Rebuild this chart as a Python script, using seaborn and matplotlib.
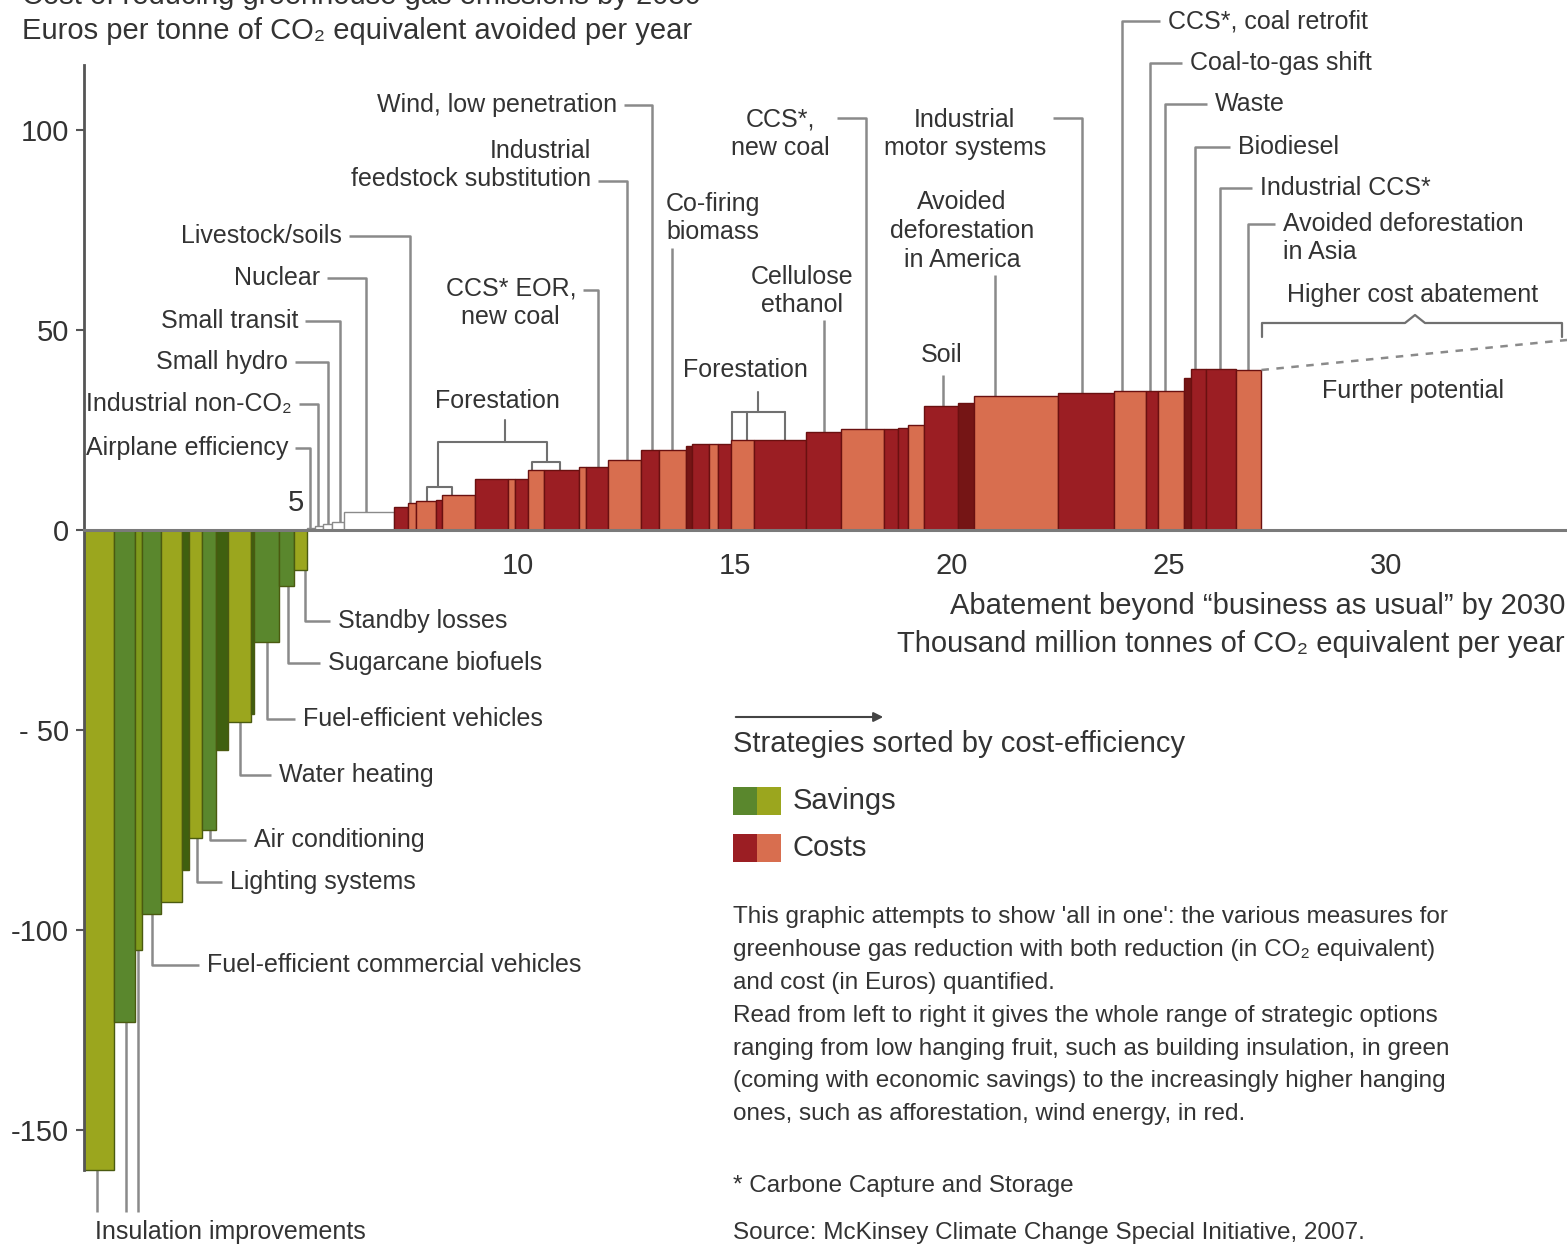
import numpy as np
import matplotlib.pyplot as plt
import seaborn as sns
from matplotlib.patches import Rectangle

sns.set_theme(style="white")
plt.rcParams["font.family"] = ["Liberation Sans", "DejaVu Sans"]

# --- data: abatement (thousand Mt CO2e / yr) and cost (EUR / t) per strategy ---
saving_widths = [0.69, 0.48, 0.16, 0.44, 0.48, 0.16, 0.32, 0.30, 0.28, 0.53, 0.07, 0.58, 0.35, 0.30]
saving_costs = [-160, -123, -105, -96, -93, -85, -77, -75, -55, -48, -46, -28, -14, -10]
saving_shades = ["y", "g", "o", "g", "y", "d", "y", "g", "d", "y", "d", "g", "g", "y"]

small_widths = [0.18, 0.18, 0.21, 0.28, 1.15]
small_costs = [0.5, 1.0, 1.5, 2.0, 4.5]

cost_widths = [0.32, 0.18, 0.46, 0.16, 0.76, 0.74, 0.18, 0.30, 0.35, 0.81,
               0.16, 0.51, 0.76, 0.41, 0.62, 0.16, 0.37, 0.21, 0.30, 0.53,
               1.20, 0.81, 0.99, 0.32, 0.23, 0.37, 0.78, 0.37, 1.94, 1.29,
               0.74, 0.28, 0.60, 0.16, 0.35, 0.69, 0.58]
cost_values = [5.75, 6.75, 7.25, 7.5, 8.75, 12.75, 12.75, 12.75, 15, 15,
               15.75, 15.75, 17.5, 20, 20, 21, 21.5, 21.5, 21.5, 22.5,
               22.5, 24.5, 25.25, 25.25, 25.5, 26.25, 31, 31.75, 33.5, 34.25,
               34.75, 34.75, 34.75, 38, 40.25, 40.25, 40]
cost_shades = ["D", "S", "S", "D", "S", "D", "S", "D", "S", "D",
               "S", "D", "S", "D", "S", "X", "D", "S", "D", "S",
               "D", "D", "S", "D", "D", "S", "D", "X", "S", "D",
               "S", "D", "S", "X", "D", "D", "S"]

further_end_cost = 47.5
x_ticks = [10, 15, 20, 25, 30]
y_ticks = [-150, -100, -50, 0, 50, 100]
y_tick_labels = ["-150", "-100", "- 50", "0", "50", "100"]

palette = {"y": "#9ba61e", "g": "#5a872d", "o": "#7f9a1c", "d": "#3f600f",
           "D": "#9b1e23", "S": "#d86e4f", "X": "#751515"}

# --- layout helpers (reference pixel grid -> data) ---
W_PX, H_PX = 1567, 1246
X0_PX, Y0_PX, PX_X, PX_Y = 84, 530, 43.4, 4.0


def fx(px):
    return (px - X0_PX) / PX_X


def fy(py):
    return (Y0_PX - py) / PX_Y


widths = np.array(saving_widths + small_widths + cost_widths)
heights = np.array(saving_costs + small_costs + cost_values)
edges = np.concatenate([[0], np.cumsum(widths)])
colors = [palette[s] for s in saving_shades] + ["white"] * len(small_widths) + [palette[s] for s in cost_shades]
edgecols = ["#4a5a10"] * len(saving_widths) + ["#8a8a8a"] * len(small_widths) + ["#6a1010"] * len(cost_widths)


def top_at(px):
    i = np.searchsorted(edges, fx(px), side="right") - 1
    i = min(max(i, 0), len(heights) - 1)
    return heights[i]


fig = plt.figure(figsize=(W_PX / 100, H_PX / 100), dpi=100)
ax = fig.add_axes([X0_PX / W_PX, 0, 1 - X0_PX / W_PX, 1])
ax.set_xlim(0, fx(W_PX))
ax.set_ylim(fy(H_PX), fy(0))

ax.bar(edges[:-1], heights, width=widths, align="edge", color=colors,
       edgecolor=edgecols, linewidth=1.0, zorder=2)

# axes styling
for s in ["top", "right"]:
    ax.spines[s].set_visible(False)
ax.spines["left"].set_bounds(-160, fy(65))
ax.spines["left"].set_color("#555555")
ax.spines["left"].set_linewidth(2)
ax.spines["bottom"].set_position(("data", 0))
ax.spines["bottom"].set_color("#7a7a7a")
ax.spines["bottom"].set_linewidth(2.2)
ax.spines["bottom"].set_zorder(3)
ax.set_yticks(y_ticks)
ax.set_yticklabels(y_tick_labels)
ax.set_xticks(x_ticks)
ax.set_xticklabels([str(t) for t in x_ticks])
ax.tick_params(axis="y", left=True, length=6, width=1.5, color="#555555",
               pad=5, labelsize=21, labelcolor="#333333")
ax.tick_params(axis="x", bottom=False, pad=10, labelsize=21, labelcolor="#333333")
ax.text(fx(296), fy(503), "5", fontsize=21, color="#333333", ha="center", va="center")

TXT = dict(fontsize=18, color="#333333")
LEAD = dict(color="#8a8a8a", lw=1.8, zorder=1, solid_capstyle="butt")
LS = 1.25

# labels to the left of their leader (upper side)
upper_right = [
    ("Wind, low penetration", 652, 617, 105, 105, "right"),
    ("Industrial\nfeedstock substitution", 627, 591, 165, 181, "right"),
    ("Livestock/soils", 410, 342, 236, 236, "right"),
    ("Nuclear", 366, 320, 278, 278, "right"),
    ("Small transit", 340, 298, 321, 321, "right"),
    ("Small hydro", 328, 288, 362, 362, "right"),
    ("Industrial non-CO₂", 318, 292, 404, 404, "right"),
    ("Airplane efficiency", 310, 288, 448, 448, "right"),
    ("CCS* EOR,\nnew coal", 598, 576, 303, 290, "center"),
    ("CCS*,\nnew coal", 866, 830, 134, 118, "center"),
    ("Industrial\nmotor systems", 1082, 1046, 134, 118, "center"),
]
for label, lx, tx, ty, ey, malign in upper_right:
    ax.text(fx(tx), fy(ty), label, ha="right", va="center", multialignment=malign,
            linespacing=LS, **TXT)
    ax.plot([fx(tx + 7), fx(lx), fx(lx)], [fy(ey), fy(ey), top_at(lx)], **LEAD)

# labels to the right of their leader
upper_left = [
    ("CCS*, coal retrofit", 1122, 1168, 21, 21),
    ("Coal-to-gas shift", 1150, 1190, 63, 63),
    ("Waste", 1165, 1215, 104, 104),
    ("Biodiesel", 1195, 1238, 147, 147),
    ("Industrial CCS*", 1220, 1260, 188, 188),
    ("Avoided deforestation\nin Asia", 1248, 1283, 238, 224),
]
for label, lx, tx, ty, ey in upper_left:
    ax.text(fx(tx), fy(ty), label, ha="left", va="center", linespacing=LS, **TXT)
    ax.plot([fx(tx - 8), fx(lx), fx(lx)], [fy(ey), fy(ey), top_at(lx)], **LEAD)

# labels above with a straight vertical leader
upper_vertical = [
    ("Co-firing\nbiomass", 672, 713, 218, 248),
    ("Cellulose\nethanol", 824, 802, 291, 320),
    ("Avoided\ndeforestation\nin America", 995, 962, 231, 275),
    ("Soil", 943, 942, 355, 375),
]
for label, lx, tx, ty, sy in upper_vertical:
    ax.text(fx(tx), fy(ty), label, ha="center", va="center", multialignment="center",
            linespacing=LS, **TXT)
    ax.plot([fx(lx), fx(lx)], [fy(sy), top_at(lx)], **LEAD)

# savings labels below the axis
lower = [
    ("Standby losses", 305, 338, 621),
    ("Sugarcane biofuels", 288, 328, 663),
    ("Fuel-efficient vehicles", 267, 303, 719),
    ("Water heating", 240, 279, 775),
    ("Air conditioning", 210, 254, 840),
    ("Lighting systems", 197, 230, 882),
    ("Fuel-efficient commercial vehicles", 152, 207, 965),
]
for label, lx, tx, ty in lower:
    ax.text(fx(tx), fy(ty), label, ha="left", va="center", **TXT)
    ax.plot([fx(lx), fx(lx), fx(tx - 8)], [top_at(lx), fy(ty), fy(ty)], **LEAD)

for lx in [97, 126, 138]:
    ax.plot([fx(lx), fx(lx)], [top_at(lx), fy(1212)], **LEAD)
ax.text(fx(95), fy(1232), "Insulation improvements", ha="left", va="center", **TXT)

# forestation brackets
BR = dict(color="#707070", lw=1.5, zorder=1)
ax.text(fx(497), fy(401), "Forestation", ha="center", va="center", **TXT)
ax.plot([fx(505), fx(505)], [fy(420), fy(442)], **BR)
ax.plot([fx(438), fx(438), fx(547), fx(547)], [fy(487), fy(442), fy(442), fy(462)], **BR)
for a, b, y in [(427, 452, 487), (532, 560, 462)]:
    ax.plot([fx(a), fx(a), fx(b), fx(b)], [top_at(a), fy(y), fy(y), top_at(b)], **BR)

ax.text(fx(745), fy(370), "Forestation", ha="center", va="center", **TXT)
ax.plot([fx(758), fx(758)], [fy(392), fy(412)], **BR)
ax.plot([fx(732), fx(785)], [fy(412), fy(412)], **BR)
for lx in [732, 747, 785]:
    ax.plot([fx(lx), fx(lx)], [fy(412), top_at(lx)], **BR)

# further potential
ax.plot([edges[-1], fx(W_PX)], [heights[-1], further_end_cost],
        ls=(0, (3, 3)), color="#8a8a8a", lw=1.8)
ax.plot([fx(1262), fx(1262), fx(1405), fx(1415), fx(1425), fx(1562), fx(1562)],
        [fy(337), fy(323), fy(323), fy(315), fy(323), fy(323), fy(337)],
        color="#707070", lw=1.6)
ax.text(fx(1413), fy(295), "Higher cost abatement", ha="center", va="center", **TXT)
ax.text(fx(1413), fy(391), "Further potential", ha="center", va="center", **TXT)

# titles
BIG = dict(fontsize=21, color="#333333")
ax.text(fx(22), fy(-4), "Cost of reducing greenhouse gas emissions by 2030", ha="left", va="center", **BIG)
ax.text(fx(22), fy(31), "Euros per tonne of CO₂ equivalent avoided per year", ha="left", va="center", **BIG)
ax.text(fx(1565), fy(606), "Abatement beyond \u201cbusiness as usual\u201d by 2030",
        ha="right", va="center", **BIG)
ax.text(fx(1565), fy(644), "Thousand million tonnes of CO₂ equivalent per year",
        ha="right", va="center", **BIG)

# legend block
ax.annotate("", xy=(fx(886), fy(717)), xytext=(fx(733), fy(717)),
            arrowprops=dict(arrowstyle="-|>", color="#444444", lw=1.5, mutation_scale=14))
ax.text(fx(733), fy(744), "Strategies sorted by cost-efficiency", ha="left", va="center", **BIG)
for (c1, c2), y, name in [(("g", "y"), 801, "Savings"), (("D", "S"), 848, "Costs")]:
    ax.add_patch(Rectangle((fx(733), fy(y + 14)), 24 / PX_X, 28 / PX_Y, color=palette[c1], lw=0))
    ax.add_patch(Rectangle((fx(757), fy(y + 14)), 24 / PX_X, 28 / PX_Y, color=palette[c2], lw=0))
    ax.text(fx(793), fy(y), name, ha="left", va="center", **BIG)

note = ("This graphic attempts to show 'all in one': the various measures for\n"
        "greenhouse gas reduction with both reduction (in CO₂ equivalent)\n"
        "and cost (in Euros) quantified.\n"
        "Read from left to right it gives the whole range of strategic options\n"
        "ranging from low hanging fruit, such as building insulation, in green\n"
        "(coming with economic savings) to the increasingly higher hanging\n"
        "ones, such as afforestation, wind energy, in red.")
ax.text(fx(733), fy(906), note, ha="left", va="top", fontsize=17.5, color="#333333", linespacing=1.64)
ax.text(fx(733), fy(1186), "* Carbone Capture and Storage", ha="left", va="center", fontsize=17.5, color="#333333")
ax.text(fx(733), fy(1233), "Source: McKinsey Climate Change Special Initiative, 2007.",
        ha="left", va="center", fontsize=17.5, color="#333333")

fig.savefig("out.png", dpi=100)
